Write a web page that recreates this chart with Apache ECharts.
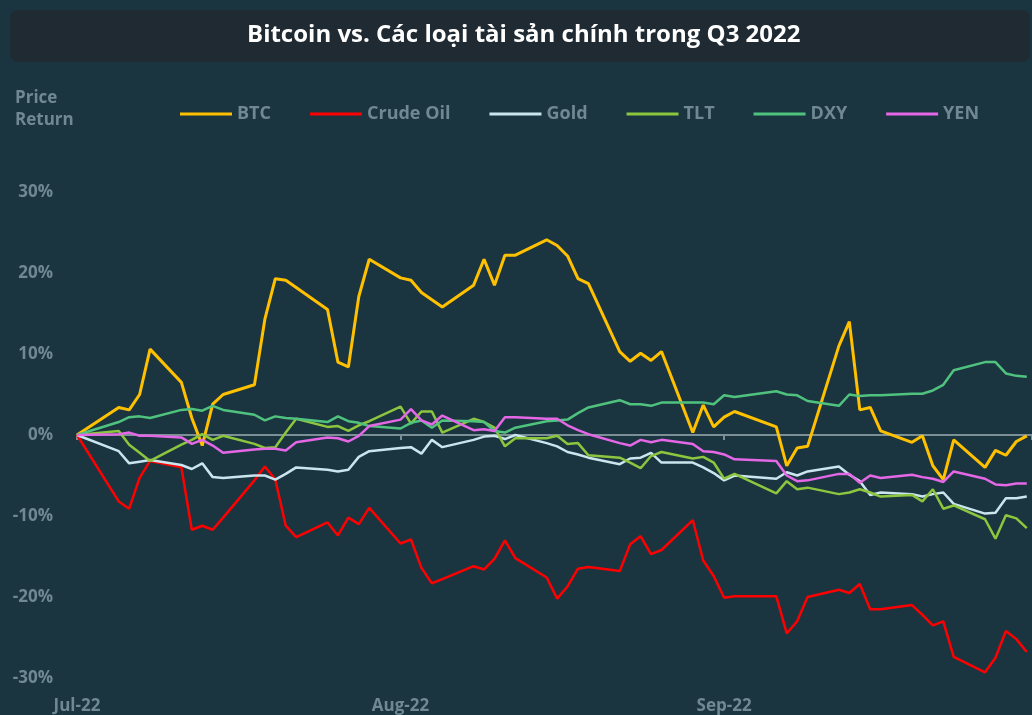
<!DOCTYPE html>
<html>
<head>
<meta charset="utf-8">
<script src="https://cdn.jsdelivr.net/npm/echarts@6/dist/echarts.min.js"></script>
<style>
  html, body { margin: 0; padding: 0; background: #1b3540; }
  #chart { width: 1032px; height: 715px; }
</style>
</head>
<body>
<div id="chart"></div>
<script>
// trading days, Q3 2022
var dates = ['2022-07-01', '2022-07-05', '2022-07-06', '2022-07-07', '2022-07-08', '2022-07-11', '2022-07-12', '2022-07-13', '2022-07-14', '2022-07-15',
  '2022-07-18', '2022-07-19', '2022-07-20', '2022-07-21', '2022-07-22', '2022-07-25', '2022-07-26', '2022-07-27', '2022-07-28', '2022-07-29',
  '2022-08-01', '2022-08-02', '2022-08-03', '2022-08-04', '2022-08-05', '2022-08-08', '2022-08-09', '2022-08-10', '2022-08-11', '2022-08-12',
  '2022-08-15', '2022-08-16', '2022-08-17', '2022-08-18', '2022-08-19', '2022-08-22', '2022-08-23', '2022-08-24', '2022-08-25', '2022-08-26',
  '2022-08-29', '2022-08-30', '2022-08-31', '2022-09-01', '2022-09-02', '2022-09-06', '2022-09-07', '2022-09-08', '2022-09-09',
  '2022-09-12', '2022-09-13', '2022-09-14', '2022-09-15', '2022-09-16', '2022-09-19', '2022-09-20', '2022-09-21', '2022-09-22', '2022-09-23',
  '2022-09-26', '2022-09-27', '2022-09-28', '2022-09-29', '2022-09-30']

// price return in %
var btc = [0, 3.4, 3.1, 5.0, 10.6, 6.5, 2.1, -1.3, 3.8, 5.0, 6.2, 14.3, 19.3, 19.1, 18.2, 15.5, 9.0, 8.4, 17.1, 21.7,
  19.4, 19.1, 17.6, 16.7, 15.8, 18.5, 21.7, 18.5, 22.2, 22.2, 24.1, 23.4, 22.1, 19.3, 18.7, 10.3, 9.1, 10.1, 9.2, 10.3, 0.3, 3.7, 1.0,
  2.2, 2.9, 1.0, -3.8, -1.6, -1.4, 11.0, 14.0, 3.1, 3.4, 0.5, -0.9, -0.1, -3.8, -5.5, -0.6, -4.0, -1.9, -2.5, -0.8, -0.1]
var crudeOil = [0, -8.2, -9.1, -5.3, -3.2, -4.0, -11.7, -11.2, -11.7, -10.2, -5.6, -3.9, -5.5, -11.2, -12.6, -10.8, -12.4, -10.2, -11.0, -9.0,
  -13.4, -12.9, -16.4, -18.3, -17.8, -16.2, -16.6, -15.3, -13.0, -15.2, -17.6, -20.2, -18.7, -16.5, -16.3, -16.8, -13.5, -12.5, -14.7, -14.2, -10.5, -15.5, -17.4,
  -20.1, -19.9, -19.9, -24.5, -23.0, -20.0, -19.1, -19.5, -18.4, -21.5, -21.5, -21.0, -22.2, -23.5, -23.0, -27.4, -29.3, -27.5, -24.2, -25.2, -26.8]
var gold = [0, -2.0, -3.5, -3.3, -3.1, -3.7, -4.2, -3.5, -5.2, -5.3, -5.0, -5.0, -5.5, -4.8, -4.0, -4.3, -4.5, -4.3, -2.7, -2.0,
  -1.6, -1.5, -2.3, -0.6, -1.5, -0.6, -0.2, -0.1, -0.5, 0.0, -1.0, -1.4, -2.1, -2.4, -2.8, -3.6, -2.9, -2.8, -2.2, -3.4, -3.4, -4.0, -4.7,
  -5.6, -5.0, -5.4, -4.6, -5.0, -4.5, -3.9, -4.9, -5.7, -7.4, -7.1, -7.3, -7.6, -7.3, -7.1, -8.5, -9.7, -9.6, -7.8, -7.8, -7.6]
var tlt = [0, 0.5, -1.2, -2.2, -3.2, -1.2, -0.6, 0.1, -0.6, -0.1, -1.1, -1.6, -1.5, 0.3, 2.0, 1.0, 1.1, 0.5, 1.2, 1.7,
  3.5, 1.4, 2.9, 2.9, 0.3, 2.0, 1.6, 0.9, -1.4, -0.4, -0.4, -0.1, -1.1, -1.0, -2.5, -2.8, -3.4, -4.1, -2.6, -2.1, -2.9, -2.7, -3.4,
  -5.4, -4.8, -7.2, -5.7, -6.7, -6.5, -7.3, -7.1, -6.7, -7.1, -7.6, -7.4, -8.2, -6.7, -9.1, -8.7, -10.4, -12.8, -9.9, -10.3, -11.5]
var dxy = [0, 1.6, 2.2, 2.3, 2.1, 3.1, 3.2, 3.0, 3.6, 3.1, 2.5, 1.8, 2.3, 2.1, 2.0, 1.6, 2.3, 1.7, 1.5, 1.1,
  0.8, 1.5, 1.8, 0.9, 1.8, 1.7, 1.6, 0.5, 0.3, 0.9, 1.7, 1.8, 1.9, 2.7, 3.4, 4.3, 3.8, 3.8, 3.6, 4.0, 4.0, 4.0, 3.8,
  4.9, 4.7, 5.4, 5.0, 4.9, 4.2, 3.6, 5.0, 4.8, 4.9, 4.9, 5.1, 5.1, 5.5, 6.2, 8.0, 9.0, 9.0, 7.6, 7.3, 7.2]
var yen = [0, 0.1, 0.3, -0.1, -0.1, -0.3, -1.1, -0.6, -1.3, -2.2, -1.8, -1.7, -1.7, -1.9, -0.9, -0.3, -0.4, -0.8, -0.1, 1.1,
  1.9, 3.2, 1.8, 1.3, 2.4, 0.6, 0.7, 0.5, 2.2, 2.2, 2.0, 2.0, 1.2, 0.6, 0.1, -1.0, -1.3, -0.6, -0.9, -0.6, -1.1, -2.0, -2.1,
  -2.4, -3.0, -3.2, -5.0, -5.7, -5.6, -4.8, -4.8, -5.9, -5.0, -5.3, -4.9, -5.2, -5.4, -5.8, -4.5, -5.4, -6.1, -6.2, -6.0, -6.0]

var seriesNames = ['BTC', 'Crude Oil', 'Gold', 'TLT', 'DXY', 'YEN']
var seriesValues = [btc, crudeOil, gold, tlt, dxy, yen]
var colors = ['#ffc000', '#ff0000', '#cbe5ee', '#8cc63e', '#4fc37e', '#e467e6']
var monthNames = ['Jan', 'Feb', 'Mar', 'Apr', 'May', 'Jun', 'Jul', 'Aug', 'Sep', 'Oct', 'Nov', 'Dec']

var textGray = '#6f8892'
var font = 'Open Sans'
var dayMs = 86400000
var xMin = new Date(2022, 6, 1).getTime()
var xMax = xMin + 91.5 * dayMs

var monthLabel = function (value) {
  var d = new Date(value)
  if (d.getDate() !== 1) return ''
  return monthNames[d.getMonth()] + '-' + String(d.getFullYear()).slice(2)
}

var series = seriesNames.map(function (name, i) {
  return {
    name: name,
    type: 'line',
    showSymbol: false,
    symbol: 'none',
    color: colors[i],
    lineStyle: { width: i === 0 ? 3 : 2.5, color: colors[i] },
    data: dates.map(function (d, j) { return [d, seriesValues[i][j]] })
  }
})

var chart = echarts.init(document.getElementById('chart'))
chart.setOption({
  backgroundColor: '#1b3540',
  animation: false,
  textStyle: { fontFamily: font },
  graphic: [
    { type: 'rect', shape: { x: 10, y: 10, width: 1020, height: 52, r: 8 }, style: { fill: '#1f2a32' }, z: -1 },
    { type: 'text', left: 15, top: 87, style: { text: 'Price\nReturn', fill: textGray, font: 'bold 17px "Open Sans"', lineHeight: 22 } }
  ],
  title: {
    text: 'Bitcoin vs. Các loại tài sản chính trong Q3 2022',
    left: 242,
    top: 18,
    textStyle: { color: '#ffffff', fontSize: 24, fontWeight: 'bold', fontFamily: font }
  },
  legend: {
    left: 175,
    top: 100,
    icon: 'rect',
    itemWidth: 52,
    itemHeight: 3,
    itemGap: 39,
    textStyle: { color: textGray, fontSize: 18, fontWeight: 'bold', fontFamily: font },
    data: seriesNames
  },
  grid: { left: 77, right: 0, top: 192, bottom: 37 },
  xAxis: [
    {
      type: 'time',
      min: xMin,
      max: xMax,
      minInterval: 28 * dayMs,
      position: 'bottom',
      axisLine: { show: false, onZero: false },
      axisTick: { show: false },
      splitLine: { show: false },
      axisLabel: {
        formatter: monthLabel,
        color: textGray,
        fontSize: 17,
        fontWeight: 'bold',
        fontFamily: font,
        margin: 20,
        hideOverlap: false
      }
    },
    {
      type: 'time',
      min: xMin,
      max: xMax,
      minInterval: 28 * dayMs,
      position: 'top',
      axisLine: { show: true, onZero: true, lineStyle: { color: '#7b9096', width: 2 } },
      axisTick: { show: true, inside: true, length: 5, lineStyle: { color: '#7b9096', width: 2 } },
      axisLabel: { show: false },
      splitLine: { show: false }
    }
  ],
  yAxis: {
    type: 'value',
    min: -30,
    max: 30,
    interval: 10,
    axisLine: { show: false },
    axisTick: { show: false },
    splitLine: { show: false },
    axisLabel: {
      formatter: '{value}%',
      color: textGray,
      fontSize: 17,
      fontWeight: 'bold',
      fontFamily: font,
      margin: 24
    }
  },
  series: series
})
</script>
</body>
</html>
